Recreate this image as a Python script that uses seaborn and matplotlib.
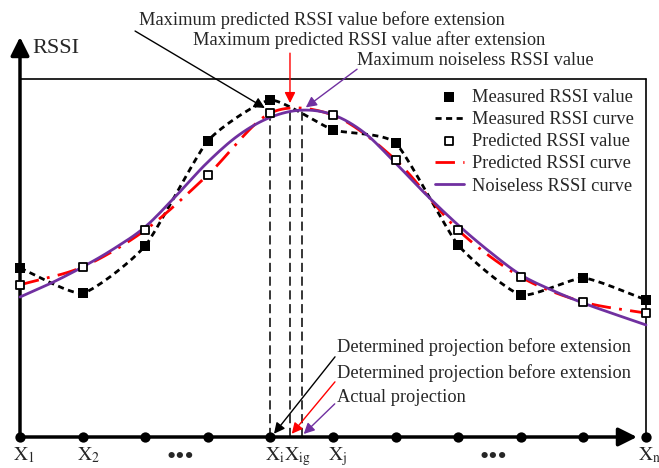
import numpy as np
import seaborn as sns
import matplotlib.pyplot as plt

# sample positions X1 ... Xn (index units) and RSSI values (frame height = 100)
positions = list(range(11))
measured = [47.2, 40.2, 53.4, 82.7, 94.1, 85.8, 82.1, 53.6, 39.7, 44.4, 38.3]
predicted = [42.5, 47.5, 57.8, 73.2, 90.5, 89.9, 77.4, 57.8, 44.7, 37.7, 34.6]
noiseless_x = [0, 0.5, 1, 1.5, 2, 2.5, 3, 3.5, 4, 4.5, 5, 5.5, 6, 6.5, 7, 7.5, 8, 8.5, 9, 9.5, 10]
noiseless_y = [39.1, 43.0, 47.5, 52.6, 58.7, 67.5, 76.8, 84.4, 89.3, 91.3, 90.0, 85.0, 76.5, 67.5, 59.2, 51.8, 45.3, 41.0, 37.4, 34.3, 31.3]

tick_labels = [r'$\mathrm{X}_{\mathrm{1}}$', r'$\mathrm{X}_{\mathrm{2}}$', r'$\mathrm{X}_{\mathrm{i}}$',
               r'$\mathrm{X}_{\mathrm{ig}}$', r'$\mathrm{X}_{\mathrm{j}}$', r'$\mathrm{X}_{\mathrm{n}}$']
tick_pos = [0.07, 1.09, 4.07, 4.43, 5.07, 10.06]

x_i, x_ig, x_true = 4, 4.313, 4.5

RED = '#ff0000'
PURPLE = '#7030a0'


def smooth(xs, ys, n=20, tension=1.0):
    # Catmull-Rom spline through the points, for drawing only
    xs = np.asarray(xs, float)
    ys = np.asarray(ys, float)
    px = np.concatenate([[2 * xs[0] - xs[1]], xs, [2 * xs[-1] - xs[-2]]])
    py = np.concatenate([[2 * ys[0] - ys[1]], ys, [2 * ys[-1] - ys[-2]]])
    outx, outy = [], []
    t = np.linspace(0, 1, n, endpoint=False)
    h00 = 2 * t ** 3 - 3 * t ** 2 + 1
    h10 = t ** 3 - 2 * t ** 2 + t
    h01 = -2 * t ** 3 + 3 * t ** 2
    h11 = t ** 3 - t ** 2
    for k in range(1, len(px) - 2):
        for arr, out in ((px, outx), (py, outy)):
            m1 = tension * 0.5 * (arr[k + 1] - arr[k - 1])
            m2 = tension * 0.5 * (arr[k + 2] - arr[k])
            out.extend(h00 * arr[k] + h10 * m1 + h01 * arr[k + 1] + h11 * m2)
    outx.append(xs[-1])
    outy.append(ys[-1])
    return np.array(outx), np.array(outy)


sns.set_theme(style='white')
plt.rcParams['font.family'] = ['Liberation Serif', 'DejaVu Serif']
plt.rcParams['mathtext.fontset'] = 'stix'

fig = plt.figure(figsize=(6.59, 4.68), dpi=100)
ax = fig.add_axes([0, 0, 1, 1])
ax.set_xlim(-0.3195, 10.208)
ax.set_ylim(-8.66, 122.07)
ax.axis('off')

mx, my = smooth(positions, measured, tension=0.55)
px_, py_ = smooth(positions, predicted, tension=0.9)
nx, ny = smooth(noiseless_x, noiseless_y, n=8)

sns.scatterplot(x=positions, y=measured, marker='s', s=62, color='black', edgecolor='black',
                linewidth=0, label='Measured RSSI value', ax=ax, zorder=6)
sns.lineplot(x=mx, y=my, color='black', linewidth=2, linestyle=(0, (2.2, 1.6)),
             label='Measured RSSI curve', ax=ax, sort=False, errorbar=None, zorder=4)
sns.scatterplot(x=positions, y=predicted, marker='s', s=38, color='white', edgecolor='black',
                linewidth=1.3, label='Predicted RSSI value', ax=ax, zorder=7)
sns.lineplot(x=px_, y=py_, color=RED, linewidth=2, linestyle=(0, (7, 3, 1, 3)),
             label='Predicted RSSI curve', ax=ax, sort=False, errorbar=None, zorder=4)
sns.lineplot(x=nx, y=ny, color=PURPLE, linewidth=2, label='Noiseless RSSI curve',
             ax=ax, sort=False, errorbar=None, zorder=5)

# frame
ax.plot([0, 10], [100, 100], color='black', lw=1.2, zorder=2)
ax.plot([10, 10], [0, 100], color='black', lw=1.2, zorder=2)

# axes with arrows
ax.annotate('', xy=(0, 112.5), xytext=(0, 0),
            arrowprops=dict(arrowstyle='-|>', color='black', lw=2.5, mutation_scale=28), zorder=3)
ax.annotate('', xy=(9.9, 0), xytext=(0, 0),
            arrowprops=dict(arrowstyle='-|>', color='black', lw=2.5, mutation_scale=28), zorder=3)
sns.scatterplot(x=positions, y=[0] * len(positions), color='black', s=55, linewidth=0,
                ax=ax, zorder=8, legend=False)
ax.text(0.205, 108.5, 'RSSI', fontsize=16, ha='left', va='center')

for lab, xp in zip(tick_labels, tick_pos):
    ax.text(xp, -6.6, lab, fontsize=14, ha='center', va='baseline')
for xp in (2.56, 7.57):
    ax.text(xp, -5.8, '•••', fontsize=19, ha='center', va='center')

# projections
for xv, top in ((x_i, 89.0), (x_ig, 92.0), (x_true, 91.0)):
    ax.plot([xv, xv], [0, top], color='black', lw=1.1, linestyle=(0, (6, 3)), zorder=3)

fs = 13.2
ax.text(4.82, 116.5, 'Maximum predicted RSSI value before extension', fontsize=fs, ha='center', va='center')
ax.annotate('', xy=(3.95, 91.5), xytext=(1.8, 113.8),
            arrowprops=dict(arrowstyle='-|>', color='black', lw=1, mutation_scale=16))
ax.text(5.575, 110.9, 'Maximum predicted RSSI value after extension', fontsize=fs, ha='center', va='center')
ax.annotate('', xy=(x_ig, 92.5), xytext=(x_ig, 108.0),
            arrowprops=dict(arrowstyle='-|>', color=RED, lw=1, mutation_scale=16))
ax.text(7.28, 105.2, 'Maximum noiseless RSSI value', fontsize=fs, ha='center', va='center')
ax.annotate('', xy=(4.53, 91.6), xytext=(5.42, 103.2),
            arrowprops=dict(arrowstyle='-|>', color=PURPLE, lw=1, mutation_scale=16))

ax.text(5.07, 25.0, 'Determined projection before extension', fontsize=fs, ha='left', va='center')
ax.annotate('', xy=(x_i + 0.03, 0.3), xytext=(5.06, 23.0),
            arrowprops=dict(arrowstyle='-|>', color='black', lw=1, mutation_scale=16))
ax.text(5.07, 17.9, 'Determined projection before extension', fontsize=fs, ha='left', va='center')
ax.annotate('', xy=(x_ig, 0.3), xytext=(5.06, 16.0),
            arrowprops=dict(arrowstyle='-|>', color=RED, lw=1, mutation_scale=16))
ax.text(5.07, 10.9, 'Actual projection', fontsize=fs, ha='left', va='center')
ax.annotate('', xy=(x_true, 0.3), xytext=(5.06, 9.8),
            arrowprops=dict(arrowstyle='-|>', color=PURPLE, lw=1, mutation_scale=16))

ax.legend(loc='upper right', bbox_to_anchor=(634 / 659, 1 - 89 / 468), frameon=False,
          fontsize=fs, handlelength=1.6, handletextpad=0.45, labelspacing=0.28, borderpad=0,
          borderaxespad=0)

fig.savefig('out.png', dpi=100)
